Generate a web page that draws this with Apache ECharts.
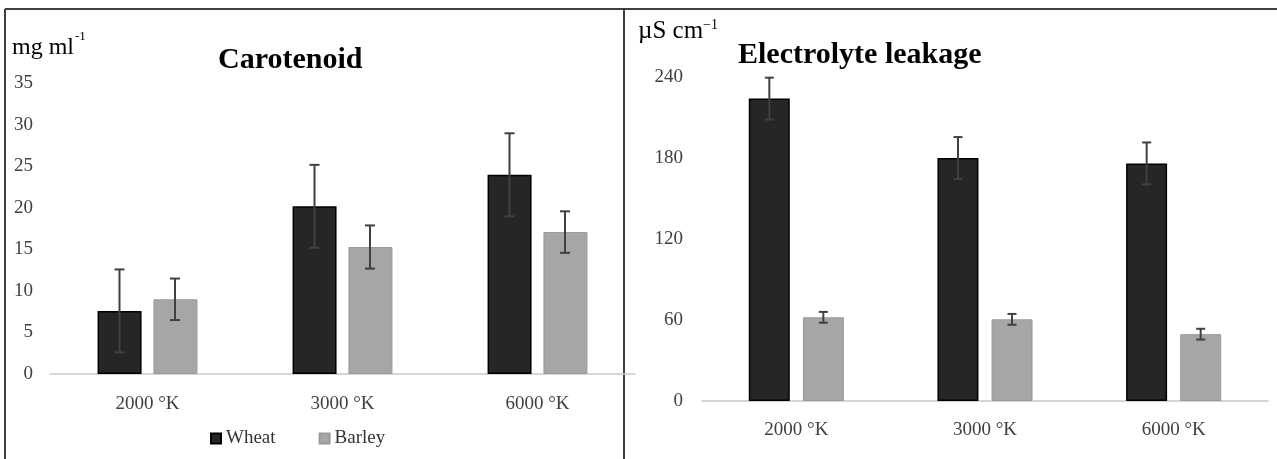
<!DOCTYPE html>
<html lang="en">
<head>
    <meta charset="UTF-8">
    <title>Carotenoid / Electrolyte leakage</title>
    <script src="https://cdn.jsdelivr.net/npm/echarts@6/dist/echarts.min.js"></script>
    <style>
      html, body { margin: 0; padding: 0; background: #fff; }
    </style>
</head>
<body>
<div id="main" style="width: 1277px;height: 459px"></div>
<script type="text/javascript">
  var categories = ['2000 °K', '3000 °K', '6000 °K'];

  // Carotenoid (mg ml-1)
  var caroWheat = [7.6, 20.2, 24.0];
  var caroWheatErr = [5.0, 5.0, 5.0];
  var caroBarley = [9.0, 15.3, 17.1];
  var caroBarleyErr = [2.5, 2.6, 2.5];

  // Electrolyte leakage (uS cm-1)
  var elWheat = [224, 180, 176];
  var elWheatErr = [15.5, 15.5, 15.5];
  var elBarley = [62, 60.5, 49.5];
  var elBarleyErr = [4, 4, 4];

  var caroTicks = { max: 35, interval: 5 };
  var elTicks = { max: 240, interval: 60 };

  var serif = '"Liberation Serif", "DejaVu Serif", serif';
  var wheatColor = '#262626';
  var barleyColor = '#a6a6a6';

  function errData(vals, errs) {
    var out = [];
    for (var i = 0; i < vals.length; i++) {
      out.push([i, vals[i] - errs[i], vals[i] + errs[i]]);
    }
    return out;
  }

  function errorBars(name, gridIdx, data, offset, cap) {
    return {
      name: name,
      type: 'custom',
      xAxisIndex: gridIdx,
      yAxisIndex: gridIdx,
      encode: { x: 0, y: [1, 2] },
      z: 10,
      data: data,
      renderItem: function(params, api) {
        var top = api.coord([api.value(0), api.value(2)]);
        var bot = api.coord([api.value(0), api.value(1)]);
        var x = top[0] + offset;
        var st = { stroke: '#404040', lineWidth: 2 };
        return {
          type: 'group',
          children: [
            { type: 'line', shape: { x1: x, y1: top[1], x2: x, y2: bot[1] }, style: st },
            { type: 'line', shape: { x1: x - cap, y1: top[1], x2: x + cap, y2: top[1] }, style: st },
            { type: 'line', shape: { x1: x - cap, y1: bot[1], x2: x + cap, y2: bot[1] }, style: st }
          ]
        };
      }
    };
  }

  var myChart = echarts.init(document.getElementById('main'));

  var axisLabel = { color: '#404040', fontFamily: serif, fontSize: 19 };

  var option = {
    animation: false,
    backgroundColor: '#fff',
    title: [{
      text: 'Carotenoid',
      left: 213, top: 40,
      textStyle: { fontFamily: serif, fontWeight: 'bold', fontSize: 30, color: '#000' }
    }, {
      text: 'Electrolyte leakage',
      left: 733, top: 35,
      textStyle: { fontFamily: serif, fontWeight: 'bold', fontSize: 30, color: '#000' }
    }],
    legend: {
      data: ['Wheat', 'Barley'],
      left: 205, top: 424,
      icon: 'rect',
      itemWidth: 10, itemHeight: 10,
      itemGap: 43,
      textStyle: { fontFamily: serif, fontSize: 19, color: '#333' }
    },
    grid: [
      { left: 50, top: 83.5, width: 585, height: 290.5 },
      { left: 702, top: 77, width: 566, height: 324 }
    ],
    xAxis: [0, 1].map(function(i) {
      return {
        type: 'category', gridIndex: i, data: categories,
        axisLine: { lineStyle: { color: '#c8c8c8', width: 1.5 } },
        axisTick: { show: false },
        axisLabel: Object.assign({ margin: i === 0 ? 21 : 20 }, axisLabel)
      };
    }),
    yAxis: [
      { type: 'value', gridIndex: 0, min: 0, max: caroTicks.max, interval: caroTicks.interval,
        splitLine: { show: false }, axisLine: { show: false }, axisTick: { show: false },
        axisLabel: Object.assign({ margin: 17 }, axisLabel) },
      { type: 'value', gridIndex: 1, min: 0, max: elTicks.max, interval: elTicks.interval,
        splitLine: { show: false }, axisLine: { show: false }, axisTick: { show: false },
        axisLabel: Object.assign({ margin: 19 }, axisLabel) }
    ],
    series: [
      { name: 'Wheat', type: 'bar', xAxisIndex: 0, yAxisIndex: 0, data: caroWheat,
        barWidth: 44, barGap: '27%',
        itemStyle: { color: wheatColor, borderColor: '#000', borderWidth: 1.5 } },
      { name: 'Barley', type: 'bar', xAxisIndex: 0, yAxisIndex: 0, data: caroBarley,
        barWidth: 44, barGap: '27%',
        itemStyle: { color: barleyColor, borderColor: '#999', borderWidth: 1 } },
      { name: 'Wheat', type: 'bar', xAxisIndex: 1, yAxisIndex: 1, data: elWheat,
        barWidth: 41, barGap: '32%',
        itemStyle: { color: wheatColor, borderColor: '#000', borderWidth: 1.5 } },
      { name: 'Barley', type: 'bar', xAxisIndex: 1, yAxisIndex: 1, data: elBarley,
        barWidth: 41, barGap: '32%',
        itemStyle: { color: barleyColor, borderColor: '#999', borderWidth: 1 } },
      errorBars('Wheat', 0, errData(caroWheat, caroWheatErr), -28, 5),
      errorBars('Barley', 0, errData(caroBarley, caroBarleyErr), 27.5, 5),
      errorBars('Wheat', 1, errData(elWheat, elWheatErr), -27, 4.5),
      errorBars('Barley', 1, errData(elBarley, elBarleyErr), 27, 4.5)
    ],
    graphic: [
      // panel frame
      { type: 'line', shape: { x1: 5, y1: 9, x2: 1277, y2: 9 }, style: { stroke: '#404040', lineWidth: 2 } },
      { type: 'line', shape: { x1: 5, y1: 9, x2: 5, y2: 459 }, style: { stroke: '#404040', lineWidth: 2 } },
      { type: 'line', shape: { x1: 624, y1: 9, x2: 624, y2: 459 }, style: { stroke: '#404040', lineWidth: 2 } },
      // axis units
      { type: 'text', left: 12, top: 36, style: { text: 'mg ml', font: '24px ' + serif, fill: '#000' } },
      { type: 'text', left: 75, top: 30, style: { text: '-1', font: '13px ' + serif, fill: '#000' } },
      { type: 'text', left: 638, top: 19, style: { text: 'µS cm', font: '25px ' + serif, fill: '#000' } },
      { type: 'text', left: 703, top: 18, style: { text: '−1', font: '14px ' + serif, fill: '#000' } }
    ]
  };

  myChart.setOption(option);
</script>
</body>
</html>
